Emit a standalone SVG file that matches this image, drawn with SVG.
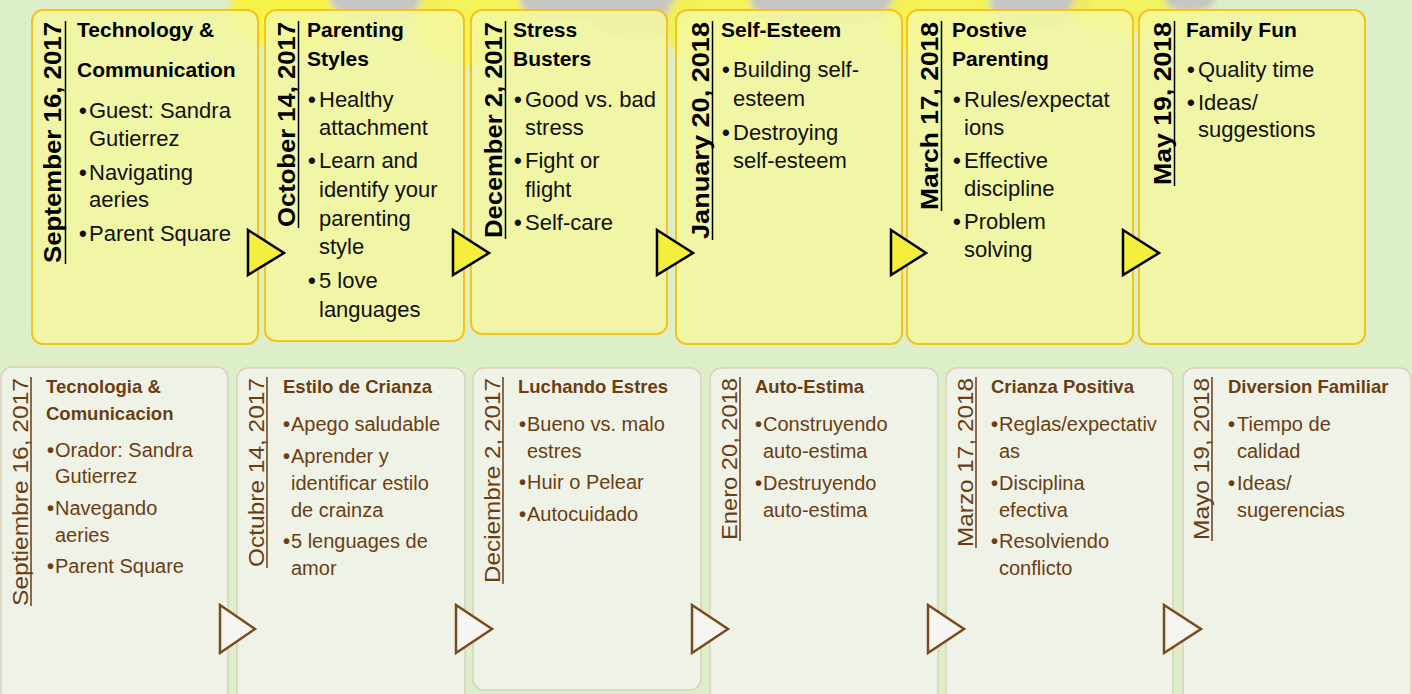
<svg xmlns="http://www.w3.org/2000/svg" width="1412" height="694" viewBox="0 0 1412 694">
<defs>
<filter id="soft" x="-30%" y="-30%" width="160%" height="160%"><feGaussianBlur stdDeviation="3"/></filter>
<style>
.bg{fill:#dcefc8}
.tbox{fill:#f3f79f;fill-opacity:0.88;stroke:#f6c21c;stroke-width:2}
.bbox{fill:#eff3e7;stroke:#dccfbf;stroke-width:1.5}
.ttri{fill:#f4ef3c;stroke:#000;stroke-width:2.5;stroke-linejoin:miter}
.btri{fill:#f6f5f2;stroke:#7b4a1c;stroke-width:2.5;stroke-linejoin:miter}
.tdate{font-family:"Liberation Sans",Arial,sans-serif;font-weight:bold;font-size:24px;fill:#000}
.ttitle{font-family:"Liberation Sans",Arial,sans-serif;font-weight:bold;font-size:21px;fill:#000}
.tbody{font-family:"Liberation Sans",Arial,sans-serif;font-size:22px;fill:#111}
.bdate{font-family:"Liberation Sans",Arial,sans-serif;font-size:22px;fill:#6b3d13}
.btitle{font-family:"Liberation Sans",Arial,sans-serif;font-weight:bold;font-size:18.5px;fill:#6b3d13}
.bbody{font-family:"Liberation Sans",Arial,sans-serif;font-size:20px;fill:#6b3d13}
.d{font-weight:bold}
.tul{stroke:#000;stroke-width:1.5}
.bul{stroke:#6b3d13;stroke-width:1.5}
</style>
</defs>
<rect class="bg" x="0" y="0" width="1412" height="694"/>
<g id="backdrop" filter="url(#soft)">
<ellipse cx="290" cy="10" rx="60" ry="40" fill="#f7f34a"/>
<ellipse cx="385" cy="0" rx="55" ry="22" fill="#c6c6c2"/>
<ellipse cx="470" cy="20" rx="55" ry="45" fill="#f7f34a" opacity="0.9"/>
<ellipse cx="560" cy="0" rx="40" ry="20" fill="#c6c6c2"/>
<ellipse cx="640" cy="8" rx="55" ry="30" fill="#c6c6c2"/>
<ellipse cx="720" cy="25" rx="55" ry="45" fill="#f7f34a" opacity="0.9"/>
<ellipse cx="830" cy="2" rx="80" ry="22" fill="#c6c6c2"/>
<ellipse cx="940" cy="20" rx="55" ry="40" fill="#f7f34a" opacity="0.9"/>
<ellipse cx="1040" cy="4" rx="50" ry="22" fill="#c6c6c2"/>
<ellipse cx="1140" cy="8" rx="70" ry="25" fill="#f7f34a" opacity="0.8"/>
<ellipse cx="1190" cy="0" rx="25" ry="12" fill="#c6c6c2"/>
</g>
<g id="top-1">
<rect class="tbox" x="32" y="10" width="226" height="334" rx="11"/>
<text class="tdate" transform="translate(61,22) rotate(-90)" text-anchor="end" textLength="241" lengthAdjust="spacingAndGlyphs">September 16, 2017</text>
<line class="tul" x1="65.5" y1="21" x2="65.5" y2="264"/>
<text class="ttitle"><tspan x="77" y="37">Technology &amp;</tspan><tspan x="77" y="77">Communication</tspan></text>
<text class="tbody"><tspan class="d" x="79" y="118">•</tspan><tspan x="89" y="118">Guest: Sandra</tspan><tspan x="89" y="146">Gutierrez</tspan><tspan class="d" x="79" y="180">•</tspan><tspan x="89" y="180">Navigating</tspan><tspan x="89" y="207">aeries</tspan><tspan class="d" x="79" y="241">•</tspan><tspan x="89" y="241">Parent Square</tspan></text>
</g>
<g id="top-2">
<rect class="tbox" x="265" y="10" width="199" height="331" rx="11"/>
<text class="tdate" transform="translate(295,22) rotate(-90)" text-anchor="end" textLength="205" lengthAdjust="spacingAndGlyphs">October 14, 2017</text>
<line class="tul" x1="298.5" y1="21" x2="298.5" y2="228"/>
<text class="ttitle"><tspan x="307" y="37">Parenting</tspan><tspan x="307" y="66">Styles</tspan></text>
<text class="tbody"><tspan class="d" x="308" y="107">•</tspan><tspan x="319" y="107">Healthy</tspan><tspan x="319" y="135">attachment</tspan><tspan class="d" x="308" y="168">•</tspan><tspan x="319" y="168">Learn and</tspan><tspan x="319" y="197">identify your</tspan><tspan x="319" y="226">parenting</tspan><tspan x="319" y="254">style</tspan><tspan class="d" x="308" y="288">•</tspan><tspan x="319" y="288">5 love</tspan><tspan x="319" y="317">languages</tspan></text>
</g>
<g id="top-3">
<rect class="tbox" x="471" y="10" width="196" height="324" rx="11"/>
<text class="tdate" transform="translate(502,22) rotate(-90)" text-anchor="end" textLength="216" lengthAdjust="spacingAndGlyphs">December 2, 2017</text>
<line class="tul" x1="505.5" y1="21" x2="505.5" y2="239"/>
<text class="ttitle"><tspan x="513" y="37">Stress</tspan><tspan x="513" y="66">Busters</tspan></text>
<text class="tbody"><tspan class="d" x="514" y="107">•</tspan><tspan x="525" y="107">Good vs. bad</tspan><tspan x="525" y="135">stress</tspan><tspan class="d" x="514" y="168">•</tspan><tspan x="525" y="168">Fight or</tspan><tspan x="525" y="197">flight</tspan><tspan class="d" x="514" y="230">•</tspan><tspan x="525" y="230">Self-care</tspan></text>
</g>
<g id="top-4">
<rect class="tbox" x="676" y="10" width="226" height="334" rx="11"/>
<text class="tdate" transform="translate(709,22) rotate(-90)" text-anchor="end" textLength="217" lengthAdjust="spacingAndGlyphs">January 20, 2018</text>
<line class="tul" x1="712.5" y1="21" x2="712.5" y2="240"/>
<text class="ttitle"><tspan x="721" y="37">Self-Esteem</tspan></text>
<text class="tbody"><tspan class="d" x="722" y="77">•</tspan><tspan x="733" y="77">Building self-</tspan><tspan x="733" y="106">esteem</tspan><tspan class="d" x="722" y="140">•</tspan><tspan x="733" y="140">Destroying</tspan><tspan x="733" y="168">self-esteem</tspan></text>
</g>
<g id="top-5">
<rect class="tbox" x="907" y="10" width="226" height="334" rx="11"/>
<text class="tdate" transform="translate(938,22) rotate(-90)" text-anchor="end" textLength="188" lengthAdjust="spacingAndGlyphs">March 17, 2018</text>
<line class="tul" x1="941.5" y1="21" x2="941.5" y2="211"/>
<text class="ttitle"><tspan x="952" y="37">Postive</tspan><tspan x="952" y="66">Parenting</tspan></text>
<text class="tbody"><tspan class="d" x="953" y="107">•</tspan><tspan x="964" y="107">Rules/expectat</tspan><tspan x="964" y="135">ions</tspan><tspan class="d" x="953" y="168">•</tspan><tspan x="964" y="168">Effective</tspan><tspan x="964" y="196">discipline</tspan><tspan class="d" x="953" y="229">•</tspan><tspan x="964" y="229">Problem</tspan><tspan x="964" y="257">solving</tspan></text>
</g>
<g id="top-6">
<rect class="tbox" x="1139" y="10" width="226" height="334" rx="11"/>
<text class="tdate" transform="translate(1171,22) rotate(-90)" text-anchor="end" textLength="163" lengthAdjust="spacingAndGlyphs">May 19, 2018</text>
<line class="tul" x1="1174.5" y1="21" x2="1174.5" y2="186"/>
<text class="ttitle"><tspan x="1186" y="37">Family Fun</tspan></text>
<text class="tbody"><tspan class="d" x="1187" y="77">•</tspan><tspan x="1198" y="77">Quality time</tspan><tspan class="d" x="1187" y="110">•</tspan><tspan x="1198" y="110">Ideas/</tspan><tspan x="1198" y="137">suggestions</tspan></text>
</g>
<g id="bottom-1">
<rect class="bbox" x="1" y="367" width="227" height="340" rx="11"/>
<text class="bdate" transform="translate(28,378) rotate(-90)" text-anchor="end" textLength="228" lengthAdjust="spacingAndGlyphs">Septiembre 16, 2017</text>
<line class="bul" x1="31" y1="377" x2="31" y2="606"/>
<text class="btitle"><tspan x="46" y="393">Tecnologia &amp;</tspan><tspan x="46" y="420">Comunicacion</tspan></text>
<text class="bbody"><tspan class="d" x="47" y="457">•</tspan><tspan x="55" y="457">Orador: Sandra</tspan><tspan x="55" y="483">Gutierrez</tspan><tspan class="d" x="47" y="515">•</tspan><tspan x="55" y="515">Navegando</tspan><tspan x="55" y="542">aeries</tspan><tspan class="d" x="47" y="573">•</tspan><tspan x="55" y="573">Parent Square</tspan></text>
</g>
<g id="bottom-2">
<rect class="bbox" x="237" y="368" width="228" height="340" rx="11"/>
<text class="bdate" transform="translate(264,378) rotate(-90)" text-anchor="end" textLength="189" lengthAdjust="spacingAndGlyphs">Octubre 14, 2017</text>
<line class="bul" x1="267" y1="377" x2="267" y2="568"/>
<text class="btitle"><tspan x="283" y="393">Estilo de Crianza</tspan></text>
<text class="bbody"><tspan class="d" x="283" y="431">•</tspan><tspan x="291" y="431">Apego saludable</tspan><tspan class="d" x="283" y="463">•</tspan><tspan x="291" y="463">Aprender y</tspan><tspan x="291" y="490">identificar estilo</tspan><tspan x="291" y="517">de crainza</tspan><tspan class="d" x="283" y="548">•</tspan><tspan x="291" y="548">5 lenguages de</tspan><tspan x="291" y="575">amor</tspan></text>
</g>
<g id="bottom-3">
<rect class="bbox" x="473" y="368" width="228" height="322" rx="11"/>
<text class="bdate" transform="translate(500,378) rotate(-90)" text-anchor="end" textLength="205" lengthAdjust="spacingAndGlyphs">Deciembre 2, 2017</text>
<line class="bul" x1="503" y1="377" x2="503" y2="584"/>
<text class="btitle"><tspan x="518" y="393">Luchando Estres</tspan></text>
<text class="bbody"><tspan class="d" x="519" y="431">•</tspan><tspan x="527" y="431">Bueno vs. malo</tspan><tspan x="527" y="458">estres</tspan><tspan class="d" x="519" y="489">•</tspan><tspan x="527" y="489">Huir o Pelear</tspan><tspan class="d" x="519" y="521">•</tspan><tspan x="527" y="521">Autocuidado</tspan></text>
</g>
<g id="bottom-4">
<rect class="bbox" x="710" y="368" width="228" height="340" rx="11"/>
<text class="bdate" transform="translate(737,378) rotate(-90)" text-anchor="end" textLength="162" lengthAdjust="spacingAndGlyphs">Enero 20, 2018</text>
<line class="bul" x1="740" y1="377" x2="740" y2="541"/>
<text class="btitle"><tspan x="755" y="393">Auto-Estima</tspan></text>
<text class="bbody"><tspan class="d" x="755" y="431">•</tspan><tspan x="763" y="431">Construyendo</tspan><tspan x="763" y="458">auto-estima</tspan><tspan class="d" x="755" y="490">•</tspan><tspan x="763" y="490">Destruyendo</tspan><tspan x="763" y="517">auto-estima</tspan></text>
</g>
<g id="bottom-5">
<rect class="bbox" x="946" y="368" width="227" height="340" rx="11"/>
<text class="bdate" transform="translate(973,378) rotate(-90)" text-anchor="end" textLength="169" lengthAdjust="spacingAndGlyphs">Marzo 17, 2018</text>
<line class="bul" x1="976" y1="377" x2="976" y2="548"/>
<text class="btitle"><tspan x="991" y="393">Crianza Positiva</tspan></text>
<text class="bbody"><tspan class="d" x="991" y="431">•</tspan><tspan x="999" y="431">Reglas/expectativ</tspan><tspan x="999" y="458">as</tspan><tspan class="d" x="991" y="490">•</tspan><tspan x="999" y="490">Disciplina</tspan><tspan x="999" y="517">efectiva</tspan><tspan class="d" x="991" y="548">•</tspan><tspan x="999" y="548">Resolviendo</tspan><tspan x="999" y="575">conflicto</tspan></text>
</g>
<g id="bottom-6">
<rect class="bbox" x="1183" y="368" width="228" height="340" rx="11"/>
<text class="bdate" transform="translate(1209,378) rotate(-90)" text-anchor="end" textLength="162" lengthAdjust="spacingAndGlyphs">Mayo 19, 2018</text>
<line class="bul" x1="1212" y1="377" x2="1212" y2="541"/>
<text class="btitle"><tspan x="1228" y="393">Diversion Familiar</tspan></text>
<text class="bbody"><tspan class="d" x="1228" y="431">•</tspan><tspan x="1237" y="431">Tiempo de</tspan><tspan x="1237" y="458">calidad</tspan><tspan class="d" x="1228" y="490">•</tspan><tspan x="1237" y="490">Ideas/</tspan><tspan x="1237" y="517">sugerencias</tspan></text>
</g>
<g id="connectors">
<polygon class="ttri" points="248,230 284,253 248,275"/>
<polygon class="ttri" points="453,230 489,253 453,275"/>
<polygon class="ttri" points="657,230 693,253 657,275"/>
<polygon class="ttri" points="891,230 926,253 891,275"/>
<polygon class="ttri" points="1123,230 1159,253 1123,275"/>
<polygon class="btri" points="220,605 255,629 220,653"/>
<polygon class="btri" points="456,605 492,629 456,653"/>
<polygon class="btri" points="692,605 728,629 692,653"/>
<polygon class="btri" points="928,605 964,629 928,653"/>
<polygon class="btri" points="1164,605 1201,629 1164,653"/>
</g>
</svg>
